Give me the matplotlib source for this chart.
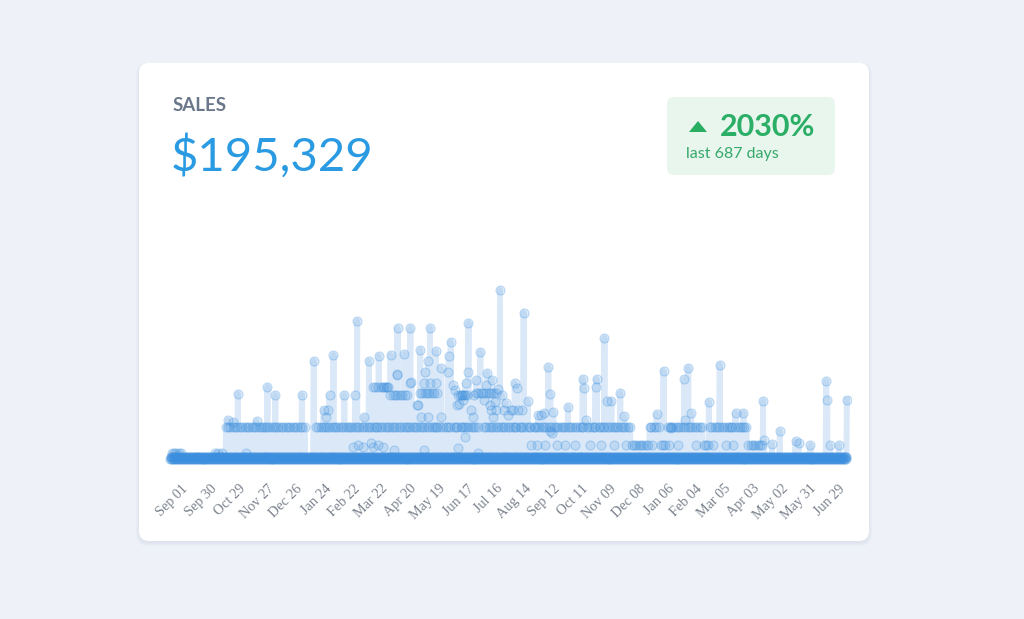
import numpy as np
import matplotlib
matplotlib.use('Agg')
import matplotlib.pyplot as plt
import matplotlib.dates as mdates
from matplotlib.patches import FancyBboxPatch, Polygon
from matplotlib.transforms import ScaledTranslation

# ---------------- data ----------------
start_date = np.datetime64('2019-09-01')
n_days = 687

# tiny orders recorded every day ($)
small_orders = [3, 8]

# regular orders, one character per day (50 days per line, spaces ignored)
# '.' none, 'a' $100, 'b' $45
plateau_code = (
    ".......... .......... .......... .......... .........."   # d0-49
    "......a.a. a..a.a.a.. a.a..a.a.a ..a.a.a..a .a.a..a.a."   # d50-99
    "a..a.a.a.a ..a.a..a.a .a..a.a.a. .a.a..a... .......a.a"   # d100-149
    "..a.a..a.a .a..a.a.a. a..a.a..a. a.a.a..a.a .a..a.a..a"   # d150-199
    ".a.a..a.a. a..a.a.a.. a.a..a.a.a ..a.a..a.a .a.a..a.a."   # d200-249
    "a..a.a.a.. a.a..a.a.a a...a.a..a ..a.a..a.a .a..a.a.a."   # d250-299
    "a.a..a.a.a ..a.....a. a..a.a.a.. a.a..a.a.a ..a.a..a.a"   # d300-349
    ".a..a.a.a. a..a.a..a. a.a.a..a.a .a..a.a..a .a.a..a.a."   # d350-399
    "a..a.a.a.. a.a..a.a.a ..a.a..a.a .a..a.a.a. a..a.a..a."   # d400-449
    "a.a.a..a.a .a..a.a.b. b.b..b.b.b ..b.b.a.a. a..a.a.b.b"   # d450-499
    ".b..a.a.a. a..a.a.a.. a.a..a.a.a ..a.a..a.a .b.b.b.a.a"   # d500-549
    "..a.a..a.a .a..a.a.a. a..a.a..a. a.a.a.b..b .b.b..b.b."   # d550-599
    "b......... .......... .......... .......... .........."   # d600-649
    ".......... .......... .......... ......."                 # d650-686
)
# second regular level in the busy spring / summer: 'c' $195, 'd' $219, 'e' $201
upper_code = (
    ".......... .......... .......... .......... .........."   # d0-49
    ".......... .......... .......... .......... .........."   # d50-99
    ".......... .......... .......... .......... .........."   # d100-149
    ".......... .......... .......... .......... .........."   # d150-199
    ".....d.d.. d..d.d..d. d.c..c.c.. c.c..c..c. c........."   # d200-249
    "...e.e..e. e.e..e.e.. e......... .......... .c.c..c.c."   # d250-299
    "c......... e.e..e.e.. e..e.e.e.. e......... .........."   # d300-349
    ".......... .......... .......... .......... .........."   # d350-399
    ".......... .......... .......... .......... .........."   # d400-449
    ".......... .......... .......... .......... .........."   # d450-499
    ".......... .......... .......... .......... .........."   # d500-549
    ".......... .......... .......... .......... .........."   # d550-599
    ".......... .......... .......... .......... .........."   # d600-649
    ".......... .......... .......... ......."                 # d650-686
)
code_amount = {'.': 0, 'a': 100, 'b': 45, 'c': 195, 'd': 219, 'e': 201}

# individual larger orders: day index and amount ($)
extra_day = [1, 3, 5, 8, 10, 45, 48, 52, 76,
             58, 63, 68, 87, 98, 106, 133, 145,
             157, 161, 165, 176, 187, 189, 196, 201, 203,
             211, 216, 220, 223, 229, 230, 237, 243, 243,
             250, 253, 258, 261, 263, 269, 274, 281, 282,
             284, 286, 290, 292, 295, 299, 302, 302, 308,
             314, 321, 324, 332, 334, 347, 349, 351, 352,
             356, 358, 362, 373, 383, 385, 388, 403, 418,
             419, 421, 431, 432, 440, 443, 447, 456, 460,
             493, 500, 508, 521, 522, 525, 528, 546, 557,
             573, 581, 601, 602, 610, 618, 634, 637, 649,
             665, 666, 669, 678, 686,
             254, 261, 274, 307, 327, 299, 292, 226, 257, 312,
             185, 195, 205, 215, 190, 210,
             365, 372, 380, 392, 400, 410, 425, 436, 450, 462,
             488, 505, 515, 533, 550, 563, 570,
             325, 330, 338, 342, 345, 387, 385, 376, 379,
             244, 257, 263, 269, 251, 297, 230, 155, 159,
             288, 296, 305, 310, 318, 320, 326, 329, 336, 340]
extra_amount = [21, 21, 21, 21, 21, 21, 21, 21, 21,
                120, 114, 198, 117, 219, 195, 195, 297,
                129, 195, 315, 195, 195, 417, 129, 297, 51,
                312, 219, 219, 315, 258, 396, 318, 396, 231,
                165, 330, 264, 297, 396, 327, 276, 264, 312,
                354, 225, 165, 168, 195, 231, 411, 264, 195,
                324, 261, 165, 213, 510, 150, 231, 216, 150,
                150, 441, 177, 135, 279, 198, 144, 159, 243,
                216, 120, 219, 243, 366, 177, 177, 201, 132,
                138, 267, 96, 243, 120, 276, 141, 174, 285,
                141, 141, 177, 60, 48, 87, 57, 51, 45,
                237, 180, 45, 45, 180,
                129, 129, 129, 129, 129, 69, 36, 30, 30, 21,
                39, 39, 39, 39, 45, 45,
                45, 45, 45, 45, 45, 45, 45, 45, 45, 45,
                45, 45, 45, 45, 45, 45, 45,
                150, 150, 150, 135, 150, 81, 87, 135, 141,
                234, 231, 231, 231, 165, 195, 255, 150, 150,
                210, 180, 150, 240, 180, 225, 240, 174, 195, 171]

tick_dates = ['2019-09-01', '2019-09-30', '2019-10-29', '2019-11-27', '2019-12-26',
              '2020-01-24', '2020-02-22', '2020-03-22', '2020-04-20', '2020-05-19',
              '2020-06-17', '2020-07-16', '2020-08-14', '2020-09-12', '2020-10-11',
              '2020-11-09', '2020-12-08', '2021-01-06', '2021-02-04', '2021-03-05',
              '2021-04-03', '2021-05-02', '2021-05-31', '2021-06-29']
tick_labels = ['Sep 01', 'Sep 30', 'Oct 29', 'Nov 27', 'Dec 26', 'Jan 24', 'Feb 22',
               'Mar 22', 'Apr 20', 'May 19', 'Jun 17', 'Jul 16', 'Aug 14', 'Sep 12',
               'Oct 11', 'Nov 09', 'Dec 08', 'Jan 06', 'Feb 04', 'Mar 05', 'Apr 03',
               'May 02', 'May 31', 'Jun 29']

title_text = 'SALES'
total_text = '$195,329'
change_text = '2030%'
period_text = 'last 687 days'

# ---------------- build order series ----------------
def decode(code):
    s = code.replace(' ', '')
    vals = [code_amount[c] for c in s]
    vals += [0] * (n_days - len(vals))
    return np.array(vals[:n_days])

plateau = decode(plateau_code)
upper = decode(upper_code)
extras = {}
for d, a in zip(extra_day, extra_amount):
    extras.setdefault(d, []).append(a)

x0 = mdates.date2num(start_date)
xs, ys = [], []
for d in range(n_days):
    day_orders = list(small_orders)
    if plateau[d] > 0:
        day_orders.append(plateau[d])
    if upper[d] > 0:
        day_orders.append(upper[d])
    day_orders += sorted(extras.get(d, []))
    k = len(day_orders)
    for i, a in enumerate(day_orders):
        xs.append(x0 + d + 0.9 * i / max(k - 1, 1))
        ys.append(a)
xs = np.array(xs)
ys = np.array(ys)

# ---------------- figure ----------------
BG = '#eef2f8'
FILL = '#dae8f8'
DOT = (0.23, 0.56, 0.87)

fig = plt.figure(figsize=(10.24, 6.19), dpi=100)
fig.patch.set_facecolor(BG)

bg = fig.add_axes([0, 0, 1, 1])
bg.set_xlim(0, 1024)
bg.set_ylim(619, 0)
bg.axis('off')

# card shadow + card
for i in range(5):
    bg.add_patch(FancyBboxPatch((139 - i * 0.8, 63 - i * 0.5 + 2), 730 + i * 1.6, 478 + i * 1.2,
                                boxstyle='round,pad=0,rounding_size=11',
                                fc=(0.55, 0.6, 0.72, 0.03), ec='none'))
bg.add_patch(FancyBboxPatch((139, 63), 730, 478, boxstyle='round,pad=0,rounding_size=10',
                            fc='white', ec='none'))

# header texts
bg.text(173, 111, title_text, fontsize=13.5, fontweight='bold', color='#6b778a',
        family='Lato', va='baseline', ha='left')
bg.text(171, 171, total_text, fontsize=34, color='#2a9be2', family='Lato',
        va='baseline', ha='left')

# badge
bg.add_patch(FancyBboxPatch((667, 97), 168, 78, boxstyle='round,pad=0,rounding_size=7',
                            fc='#e9f6ee', ec='none'))
bg.add_patch(Polygon([(689, 132), (707, 132), (698, 121)], closed=True,
                     fc='#27ae60', ec='none'))
bg.text(720, 136, change_text, fontsize=22, fontweight='bold', color='#2bae66',
        family='Lato', va='baseline', ha='left')
bg.text(686, 158, period_text, fontsize=11.5, color='#35a96a', family='Lato',
        va='baseline', ha='left')

# chart axes
ax = fig.add_axes([165 / 1024, (619 - 470) / 619, 686 / 1024, 190 / 619])
ax.patch.set_alpha(0)
ax.fill_between(xs, ys, 0, color=FILL, lw=0, zorder=1)
ax.plot(xs, ys, color=FILL, lw=4.3, solid_joinstyle='round', zorder=2)
ax.scatter(xs, ys, s=42, facecolor=DOT + (0.17,), edgecolor=DOT + (0.30,),
           linewidth=0.8, zorder=3)
ax.set_xlim(x0 - 5.08, x0 + 691.08)
ax.set_ylim(-30, 540)
for s in ax.spines.values():
    s.set_visible(False)
ax.set_yticks([])
tick_pos = mdates.date2num(np.array(tick_dates, dtype='datetime64[D]'))
ax.set_xticks(tick_pos)
ax.set_xticklabels(tick_labels, rotation=45, ha='right', va='center',
                   rotation_mode='anchor', family='Liberation Serif', fontsize=10.2,
                   color='#7b828d')
ax.tick_params(axis='x', length=0, pad=12)
off = ScaledTranslation(16 / 100, 0, fig.dpi_scale_trans)
for lbl in ax.get_xticklabels():
    lbl.set_transform(lbl.get_transform() + off)

fig.savefig('out.png', dpi=100, facecolor=BG)
